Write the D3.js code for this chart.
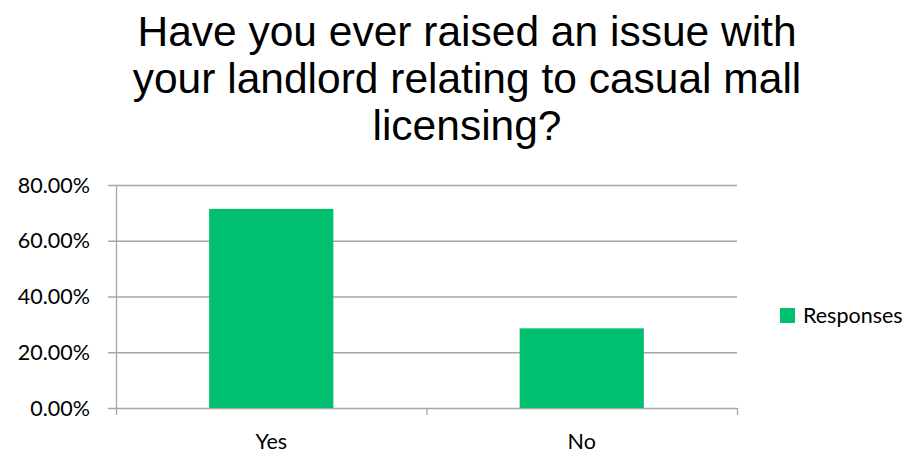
<!DOCTYPE html>
<html>
<head>
<meta charset="utf-8">
<script src="https://cdn.jsdelivr.net/npm/d3@7"></script>
<style>
  body { margin: 0; background: #fff; }
  svg { display: block; }
</style>
</head>
<body>
<svg width="917" height="454"></svg>
<script>
// data
const categories = ["Yes", "No"];
const responses = [0.7143, 0.2857];
const yTicks = [0, 0.2, 0.4, 0.6, 0.8];
const titleLines = ["Have you ever raised an issue with", "your landlord relating to casual mall", "licensing?"];
const seriesName = "Responses";

const svg = d3.select("svg"),
    width = +svg.attr("width"),
    height = +svg.attr("height");

const margin = {top: 185, right: 180, bottom: 46, left: 116};
const plotW = 737 - margin.left,
    plotH = 408 - margin.top;

const green = "#00bf6f";
const gridColor = "#a6a6a6";
const labelFont = "Lato, 'Open Sans', sans-serif";

// title
svg.append("g")
    .selectAll("text")
    .data(titleLines)
    .enter().append("text")
    .attr("x", 467)
    .attr("y", (d, i) => 46 + i * 47)
    .attr("text-anchor", "middle")
    .style("font-family", "'Liberation Sans', Arial, sans-serif")
    .style("font-size", "42.5px")
    .style("fill", "#000")
    .text(d => d);

const g = svg.append("g").attr("transform", `translate(${margin.left},${margin.top})`);

const x = d3.scaleBand().domain(categories).range([0, plotW]).paddingInner(0.6).paddingOuter(0.3);
const y = d3.scaleLinear().domain([0, 0.8]).range([plotH, 0]);

// gridlines
g.append("g")
    .selectAll("line")
    .data(yTicks)
    .enter().append("line")
    .attr("x1", -8)
    .attr("x2", plotW)
    .attr("y1", d => y(d) + 0.5)
    .attr("y2", d => y(d) + 0.5)
    .attr("stroke", gridColor)
    .attr("stroke-width", 1.3);

// bars
g.append("g")
    .selectAll("rect")
    .data(categories)
    .enter().append("rect")
    .attr("x", d => x(d))
    .attr("y", (d, i) => y(responses[i]))
    .attr("width", x.bandwidth())
    .attr("height", (d, i) => plotH - y(responses[i]))
    .style("fill", green);

// y axis line
g.append("line")
    .attr("x1", 0.5).attr("x2", 0.5)
    .attr("y1", 0).attr("y2", plotH)
    .attr("stroke", gridColor).attr("stroke-width", 1.3);

// x axis ticks (category boundaries)
const step = plotW / categories.length;
g.append("g")
    .selectAll("line")
    .data(d3.range(categories.length + 1))
    .enter().append("line")
    .attr("x1", d => d * step + 0.5)
    .attr("x2", d => d * step + 0.5)
    .attr("y1", plotH)
    .attr("y2", plotH + 7)
    .attr("stroke", gridColor).attr("stroke-width", 1.3);

// y tick labels
g.append("g")
    .selectAll("text")
    .data(yTicks)
    .enter().append("text")
    .attr("x", -26)
    .attr("y", d => y(d))
    .attr("dy", "0.35em")
    .attr("text-anchor", "end")
    .style("font-family", labelFont)
    .style("font-size", "21.5px")
    .style("fill", "#000")
    .text(d => d3.format(".2%")(d));

// x labels
g.append("g")
    .selectAll("text")
    .data(categories)
    .enter().append("text")
    .attr("x", d => x(d) + x.bandwidth() / 2)
    .attr("y", plotH + 41)
    .attr("text-anchor", "middle")
    .style("font-family", labelFont)
    .style("font-size", "21.5px")
    .style("fill", "#000")
    .text(d => d);

// legend
const legend = svg.append("g").attr("transform", "translate(780,308)");
legend.append("rect")
    .attr("width", 15).attr("height", 15)
    .style("fill", green);
legend.append("text")
    .attr("x", 23)
    .attr("y", 7.5)
    .attr("dy", "0.35em")
    .style("font-family", labelFont)
    .style("font-size", "21.5px")
    .style("fill", "#000")
    .text(seriesName);
</script>
</body>
</html>
